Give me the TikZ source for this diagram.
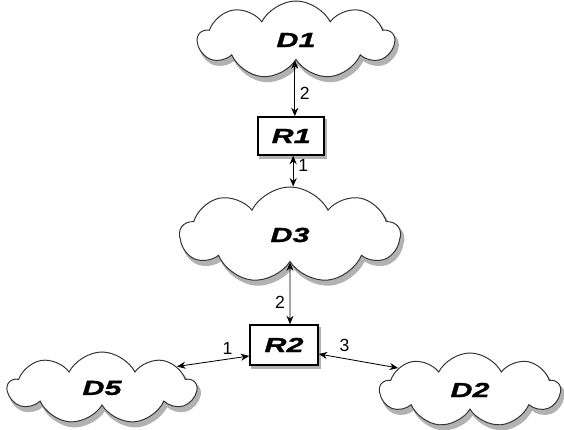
\documentclass[tikz,border=0pt]{standalone}
\usepackage{fontspec}
\setmainfont{Liberation Sans}
\newfontfamily\widefont[FakeStretch=1.5,FakeBold=1.2]{Liberation Sans}
\usetikzlibrary{shapes.symbols,arrows.meta}

\tikzset{
  shade below/.style={preaction={draw=black!30, line width=1.5pt, fill=black!30, transform canvas={xshift=#1, yshift=-1.6*#1}}},
  netcloud/.style={cloud, cloud puffs=9, cloud puff arc=125, cloud ignores aspect,
    draw=black!80, line width=0.7pt, fill=white, shade below=2pt,
    font=\widefont\fontsize{14.5}{16}\selectfont\bfseries\itshape},
  router/.style={rectangle, draw, line width=1.1pt, fill=white,
    minimum width=1.65cm, minimum height=0.95cm, shade below=1.2pt,
    font=\widefont\fontsize{14.5}{16}\selectfont\bfseries\itshape},
  link/.style={<->, >={Stealth[length=6pt,width=5pt]}, line width=0.6pt},
  port/.style={font=\fontsize{12.5}{14}\selectfont}
}

\begin{document}
\begin{tikzpicture}
\useasboundingbox (0,0) rectangle (14.1,10.75);
% domains
\node[netcloud, minimum width=4.9cm, minimum height=1.95cm] (d1) at (7.4,9.75) {D1};
\node[netcloud, minimum width=5.5cm, minimum height=2.4cm] (d3) at (7.25,4.875) {D3};
\node[netcloud, minimum width=4.7cm, minimum height=1.8cm] (d5) at (2.55,1.05) {D5};
\node[netcloud, minimum width=4.5cm, minimum height=1.85cm] (d2) at (11.75,1.0) {D2};
% routers
\node[router] (r1) at (7.28,7.35) {R1};
\node[router, minimum width=1.7cm, minimum height=1cm] (r2) at (7.1,2.125) {R2};
% links
\draw[link] (d1.south -| 7.37,0) -- node[port, pos=0.6, right] {2} (r1.north -| 7.37,0);
\draw[link] (r1.south -| 7.33,0) -- node[port, pos=0.3, right] {1} (d3.north -| 7.33,0);
\draw[link] (d3) -- node[port, pos=0.65, left] {2} (d3 |- r2.north);
\draw[link] (r2.west |- 0,1.85) -- node[port, pos=0.3, above] {1} (d5.16);
\draw[link] (r2.east |- 0,1.9) -- node[port, pos=0.2, above right] {3} (d2.163);
\end{tikzpicture}
\end{document}
